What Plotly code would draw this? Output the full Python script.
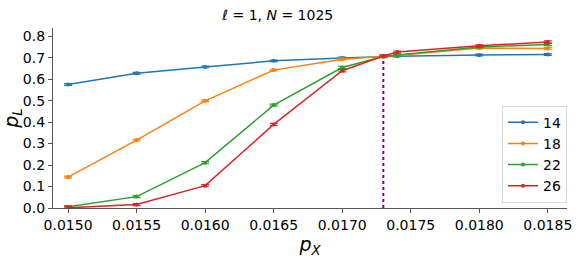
import plotly.graph_objects as go

p_x = [0.0150, 0.0155, 0.0160, 0.0165, 0.0170, 0.0173, 0.0174, 0.0180, 0.0185]
sizes = ["14", "18", "22", "26"]
p_L = {
    "14": [0.575, 0.627, 0.657, 0.685, 0.698, 0.705, 0.707, 0.712, 0.715],
    "18": [0.144, 0.316, 0.499, 0.642, 0.693, 0.705, 0.710, 0.745, 0.743],
    "22": [0.006, 0.053, 0.211, 0.479, 0.654, 0.705, 0.712, 0.750, 0.761],
    "26": [0.001, 0.016, 0.104, 0.389, 0.639, 0.708, 0.726, 0.755, 0.773],
}
err = {
    "14": [0.004] * 9,
    "18": [0.004] * 9,
    "22": [0.005] * 9,
    "26": [0.005] * 9,
}
colors = ["#1f77b4", "#ff7f0e", "#2ca02c", "#d62728"]
p_c = 0.0173
p_cross = 0.705
x_ticks = [0.0150, 0.0155, 0.0160, 0.0165, 0.0170, 0.0175, 0.0180, 0.0185]
y_ticks = [0.0, 0.1, 0.2, 0.3, 0.4, 0.5, 0.6, 0.7, 0.8]

fig = go.Figure()
for s, c in zip(sizes, colors):
    fig.add_trace(go.Scatter(
        x=p_x, y=p_L[s], name=s, mode="lines+markers",
        line=dict(color=c, width=1.5),
        marker=dict(color=c, size=4, symbol="circle"),
        error_y=dict(type="data", array=err[s], color=c, thickness=1.2, width=4),
    ))

fig.add_shape(type="line", x0=p_c, x1=p_c, y0=0, y1=p_cross, xref="x", yref="y",
              line=dict(color="purple", width=2, dash="dot"), layer="below")

fig.update_layout(
    width=581, height=259,
    margin=dict(l=53, r=14, t=28, b=51),
    paper_bgcolor="white", plot_bgcolor="white",
    font=dict(family="DejaVu Sans", size=14, color="black"),
    title=dict(text="<i>ℓ</i> = 1, <i>N</i> = 1025", x=0.478, xanchor="center",
               y=0.94, yanchor="middle", font=dict(size=14)),
    showlegend=True,
    legend=dict(x=1.0, xanchor="right", y=0.03, yanchor="bottom",
                bordercolor="#d9d9d9", borderwidth=1, bgcolor="white",
                font=dict(size=14), tracegroupgap=0, itemwidth=30),
    xaxis=dict(range=[0.01489, 0.01864], tickvals=x_ticks,
               ticktext=[f"{v:.4f}" for v in x_ticks], automargin=False,
               showline=True, linecolor="#555", linewidth=1.2,
               ticks="outside", ticklen=4, tickcolor="#555",
               showgrid=False, zeroline=False,
               title=dict(text="<i>p<sub>X</sub></i>", font=dict(size=19), standoff=4)),
    yaxis=dict(range=[0, 0.838], tickvals=y_ticks,
               ticktext=[f"{v:.1f}" for v in y_ticks], automargin=False,
               showline=True, linecolor="#555", linewidth=1.2,
               ticks="outside", ticklen=4, tickcolor="#555",
               showgrid=False, zeroline=False,
               title=dict(text="<i>p<sub>L</sub></i>", font=dict(size=19), standoff=4)),
)

fig.write_html("out.html", config={"displayModeBar": False},
               post_script="document.body.style.margin='0';document.body.style.overflow='hidden';")
